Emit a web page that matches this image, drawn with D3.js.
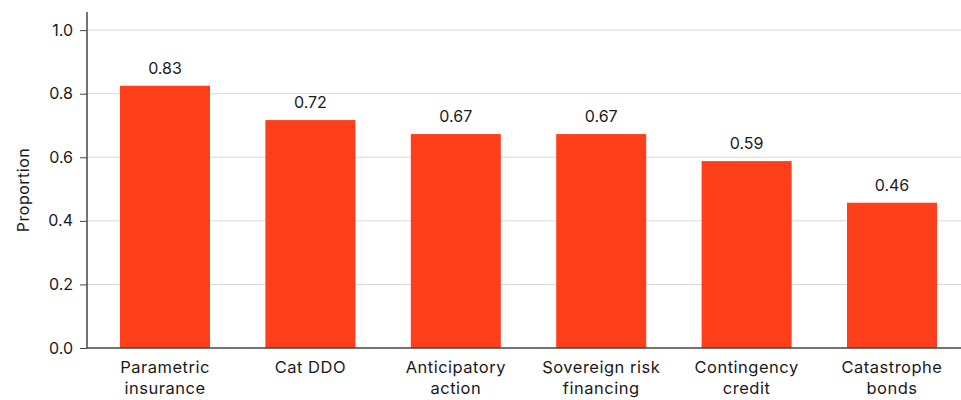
<!DOCTYPE html>
<html><head><meta charset="utf-8">
<script src="https://cdn.jsdelivr.net/npm/d3@7"></script>
<style>body{margin:0;background:#fff}svg{display:block;font-family:Inter, "Noto Sans", sans-serif}</style>
</head><body><svg id="c" width="961" height="400"></svg>
<script>
const categories = [["Parametric","insurance"],["Cat DDO"],["Anticipatory","action"],["Sovereign risk","financing"],["Contingency","credit"],["Catastrophe","bonds"]];
const values = [0.825, 0.717, 0.673, 0.673, 0.588, 0.457];
const valueLabels = ["0.83","0.72","0.67","0.67","0.59","0.46"];
const yTicks = [0, 0.2, 0.4, 0.6, 0.8, 1.0];
const yTitle = "Proportion";

const svg = d3.select("#c");
const x0 = 87, yBase = 348;
const x = d3.scaleBand().domain(d3.range(categories.length)).range([x0, 970]).paddingInner(0.381).paddingOuter(0.227);
const y = d3.scaleLinear().domain([0, 1.057]).range([yBase, 12]);

// gridlines
svg.append("g").selectAll("line").data(yTicks.filter(d=>d>0)).join("line")
  .attr("x1", x0).attr("x2", 970).attr("y1", d=>y(d)).attr("y2", d=>y(d))
  .attr("stroke", "#d9d9d9").attr("stroke-width", 1);

// bars
svg.append("g").selectAll("rect").data(values).join("rect")
  .attr("x", (d,i)=>x(i)).attr("width", x.bandwidth())
  .attr("y", d=>y(d)).attr("height", d=>yBase - y(d))
  .attr("fill", "#ff3e1b");

// value labels
svg.append("g").selectAll("text").data(values).join("text")
  .attr("x", (d,i)=>x(i)+x.bandwidth()/2).attr("y", d=>y(d)-12)
  .attr("text-anchor","middle").attr("font-size", 16).attr("fill","#1a1a1a")
  .text((d,i)=>valueLabels[i]);

// y axis
const ya = svg.append("g").attr("transform", `translate(${x0},0)`)
  .call(d3.axisLeft(y).tickValues(yTicks).tickFormat(d3.format(".1f")).tickSize(7).tickPadding(7));
ya.select(".domain").attr("stroke","#444").attr("stroke-width",1.5).attr("d", `M0,${yBase}V12`);
ya.selectAll(".tick line").attr("stroke","#444");
ya.selectAll(".tick text").attr("font-size",16).attr("fill","#1a1a1a").attr("font-family","Inter, sans-serif");

// x axis
const xa = svg.append("g").attr("transform", `translate(0,${yBase})`)
  .call(d3.axisBottom(x).tickSize(0).tickFormat(""));
xa.select(".domain").attr("stroke","#444").attr("stroke-width",1.5).attr("d", `M${x0},0H970`);
xa.selectAll(".tick").each(function(d){
  const t = d3.select(this).append("text").attr("text-anchor","middle").attr("font-size",16.5)
    .attr("letter-spacing","0.5px")
    .attr("fill","#1a1a1a").attr("font-family","Inter, sans-serif");
  categories[d].forEach((line,k)=>{
    t.append("tspan").attr("x",0).attr("y", 25 + k*21).text(line);
  });
});

// y title
svg.append("text").attr("transform", `translate(29,${190}) rotate(-90)`)
  .attr("text-anchor","middle").attr("font-size",16).attr("letter-spacing","0.5px")
  .attr("fill","#1a1a1a").text(yTitle);
</script></body></html>
